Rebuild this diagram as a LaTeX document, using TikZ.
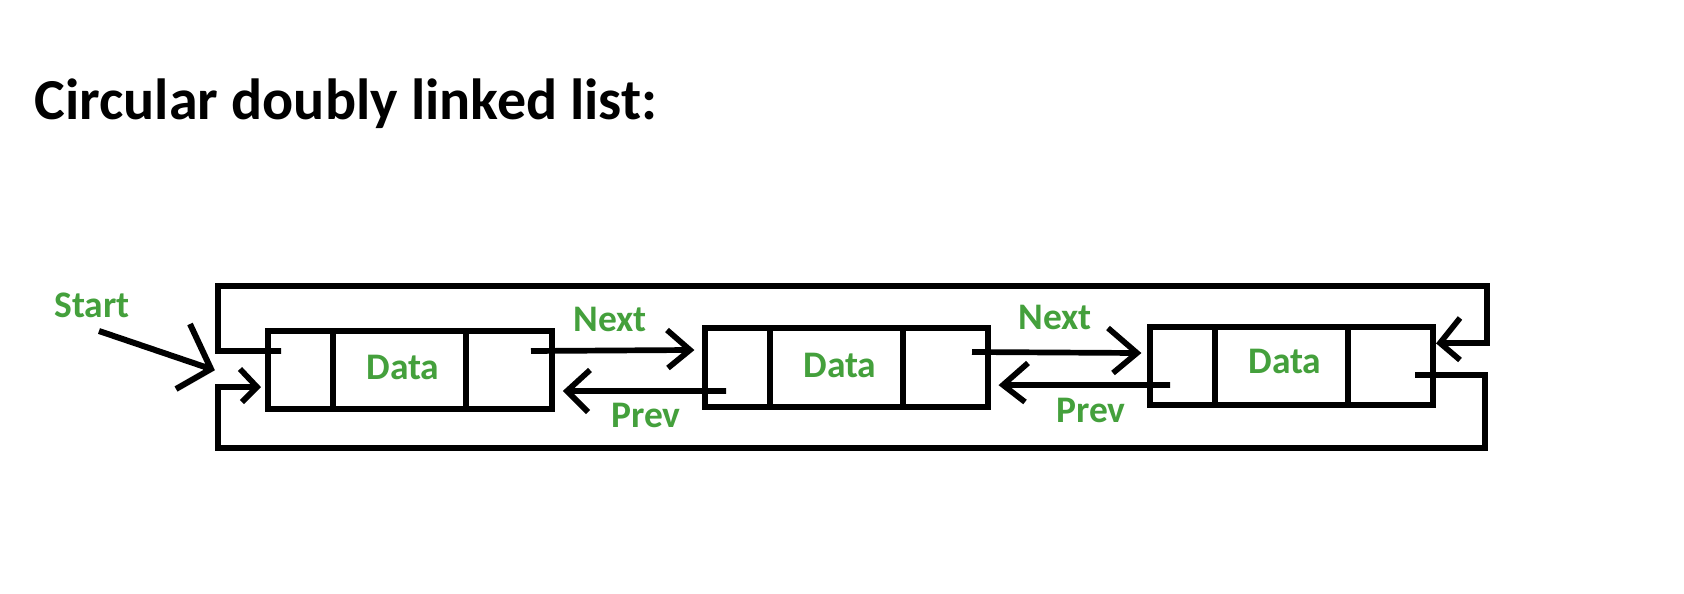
\documentclass[tikz,border=0pt]{standalone}
\usepackage{fontspec}
\setmainfont{Carlito}
\usetikzlibrary{calc}
\definecolor{lblgreen}{RGB}{68,160,60}
\begin{document}
\begin{tikzpicture}[x=1pt,y=-1pt,
  line width=5.7pt,
  listnode/.style={draw,line width=5.7pt,inner sep=0pt,outer sep=0pt},
  lbl/.style={text=lblgreen,font=\fontsize{37.5}{44}\selectfont\bfseries,anchor=base,inner sep=0pt},
  ttl/.style={text=black,font=\fontsize{58}{68}\selectfont\bfseries,anchor=base west,inner sep=0pt},
  link/.style={draw,line width=5.7pt},
  stub/.style={draw,line width=5.7pt}
]
\path[use as bounding box,fill=white] (0,0) rectangle (1684,594);

% title
\node[ttl] (title) at (32,119) {Circular doubly linked list:};

% list nodes
\node[listnode,minimum width=284pt,minimum height=78pt] (n1) at (410,370) {};
\node[listnode,minimum width=283pt,minimum height=79pt] (n2) at (846.5,367.5) {};
\node[listnode,minimum width=283pt,minimum height=78pt] (n3) at (1291.5,366) {};
\foreach \n in {n1,n2,n3}{
  \draw[stub] ($(\n.north west)+(65,0)$) -- ($(\n.south west)+(65,0)$);
  \draw[stub] ($(\n.north west)+(198,0)$) -- ($(\n.south west)+(198,0)$);
}

% data labels
\node[lbl] (d1) at (403,379) {Data};
\node[lbl] (d2) at (840,377) {Data};
\node[lbl] (d3) at (1285,373) {Data};

% pointer coordinates
\coordinate (n1next) at ($(n1.east)+(-21,-19)$);
\coordinate (n2nexttip) at ($(n2.west)+(-15,-17.5)$);
\coordinate (n2prev) at ($(n2.west)+(21,23.5)$);
\coordinate (n1prevtip) at ($(n1.east)+(15,21)$);
\coordinate (n2next) at ($(n2.east)+(-16,-15.5)$);
\coordinate (n3nexttip) at ($(n2.east)+(149,-14.5)$);
\coordinate (n3prev) at ($(n3.west)+(20,19)$);
\coordinate (n2prevtip) at ($(n2.east)+(15,17.5)$);
\coordinate (n3rtip) at ($(n3.east)+(7,-23)$);
\coordinate (n3next) at ($(n3.east)+(-18,9)$);
\coordinate (n1prev) at ($(n1.west)+(13,-19)$);
\coordinate (n1ltip) at ($(n1.west)+(-11,17)$);
\coordinate (tl) at (218,286);
\coordinate (tr) at (1487,286);
\coordinate (br) at (1485,448);
\coordinate (bl) at (218,448);

% links between nodes (shaft, then the two strokes of the open arrowhead)
\draw[link] (n1next) -- (n2nexttip) ++(-23,-20) -- (n2nexttip) -- ++(-22,18);
\draw[link] (n2prev) -- (n1prevtip) ++(23,-21) -- (n1prevtip) -- ++(21,21);
\draw[link] (n2next) -- (n3nexttip) ++(-29,-25) -- (n3nexttip) -- ++(-24,20);
\draw[link] (n3prev) -- (n2prevtip) ++(25,-22) -- (n2prevtip) -- ++(22,17);

% circular links
\draw[link] (n1prev) -| (tl) -- (tr) |- (n3rtip) ++(20,-25) -- (n3rtip) -- ++(20,17);
\draw[link] (n3next) -| (br) -- (bl) |- (n1ltip) ++(-17,-18) -- (n1ltip) -- ++(-15,15);

% labels
\node[lbl] (next1) at (610,331) {Next};
\node[lbl] (prev1) at (646,427) {Prev};
\node[lbl] (next2) at (1055,329) {Next};
\node[lbl] (prev2) at (1091,422) {Prev};

% start
\node[lbl] (start) at (92,317) {Start};
\coordinate (starttail) at (99,331);
\coordinate (starttip) at (211,369);
\draw[link,line width=6pt] (starttail) -- (starttip) ++(-21,-45) -- (starttip) -- ++(-35,20);
\end{tikzpicture}
\end{document}
